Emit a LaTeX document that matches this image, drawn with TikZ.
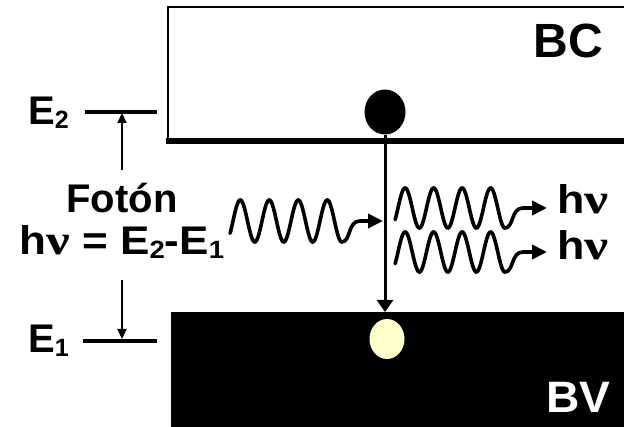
\documentclass[tikz,border=0pt]{standalone}
\usepackage{fontspec}
\setmainfont{Liberation Sans}
\newfontfamily\nufont{Liberation Serif}
\usetikzlibrary{arrows.meta,shapes.geometric}
\definecolor{holecol}{RGB}{255,255,204}
\newcommand{\sbs}[1]{\raisebox{-4pt}{\fontsize{25}{25}\selectfont #1}}
\newcommand{\nug}{{\nufont\bfseries\scalebox{1.2}[1.05]{ν}}}
\newcommand{\wavearrow}[5]{%
  \draw[wavestyle] plot[domain=-0.1:3.75, samples=150, smooth] ({#1+#3*\x},{#2-#4*sin(360*\x)})
    .. controls ({#1+3.75*#3+9},{#2+#4}) and ({#1+3.75*#3+6},{#2}) .. ({#1+3.75*#3+18},{#2}) -- (#5,#2);}
\tikzset{
  lbl/.style={inner sep=0pt, font=\bfseries\fontsize{40}{44}\selectfont},
  wavestyle/.style={line width=3.6pt, line cap=round, -{Triangle[length=15pt,width=14pt]}},
  lvl/.style={line width=3.5pt},
  thinarrow/.style={line width=2.2pt, -{Triangle[length=10pt,width=9pt]}}
}
\begin{document}
\begin{tikzpicture}[x=1pt,y=-1pt]
\useasboundingbox (0,0) rectangle (624,427);
\fill[white] (0,0) rectangle (624,427);
% conduction band box
\draw[line width=2pt] (630,7) -- (168,7) -- (168,141);
\draw[line width=6pt] (166,141) -- (630,141);
\node[lbl, anchor=base east, font=\bfseries\fontsize{48}{52}\selectfont] (bc) at (603,58) {BC};
% valence band
\fill[black] (171,312) rectangle (630,430);
\node[lbl, anchor=base east, text=white, font=\bfseries\fontsize{44}{48}\selectfont] (bv) at (611,413) {\scalebox{1.05}[1]{BV}};
% electron and hole
\node[ellipse, fill=black, minimum width=41pt, minimum height=45pt, inner sep=0pt] (e) at (385,112) {};
\node[ellipse, fill=holecol, minimum width=35pt, minimum height=40pt, inner sep=0pt] (h) at (387,339) {};
\coordinate (bvtop) at (385,312);
\draw[line width=3pt, -{Triangle[length=12pt,width=16pt]}] (e.south) -- (bvtop);
% energy levels
\coordinate (e2a) at (85,112); \coordinate (e2b) at (157,112);
\coordinate (e1a) at (83,341); \coordinate (e1b) at (157,341);
\draw[lvl] (e2a) -- (e2b);
\draw[lvl] (e1a) -- (e1b);
\node[lbl, anchor=base west] (E2) at (28,125) {E\sbs{2}};
\node[lbl, anchor=base west] (E1) at (28,353) {E\sbs{1}};
\node[lbl, anchor=base] (foton) at (122,213) {Fotón};
\node[lbl, anchor=base] (hv) at (122,255) {\scalebox{1.1}[1]{h\nug{} = E\sbs{2}-E\sbs{1}}};
\coordinate (upstart) at (122,170); \coordinate (uptip) at (122,113);
\coordinate (dnstart) at (122,280); \coordinate (dntip) at (122,339);
\draw[thinarrow] (upstart) -- (uptip);
\draw[thinarrow] (dnstart) -- (dntip);
% photons
\wavearrow{233}{221}{29}{21}{383}
\wavearrow{398}{208}{28.5}{20}{547}
\wavearrow{398}{252}{28.5}{20}{547}
\node[lbl, anchor=base west] (hv1) at (557,214) {\scalebox{1.12}[1]{h\nug}};
\node[lbl, anchor=base west] (hv2) at (557,260) {\scalebox{1.12}[1]{h\nug}};
\end{tikzpicture}
\end{document}
